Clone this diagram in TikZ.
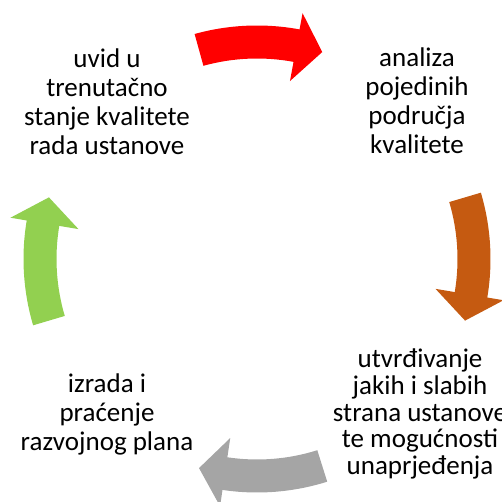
\documentclass[tikz,border=0pt]{standalone}
\usepackage{fontspec}
\setmainfont{Carlito}
\definecolor{cyred}{HTML}{FF0000}
\definecolor{cyorange}{HTML}{C55A11}
\definecolor{cygray}{HTML}{A5A5A5}
\definecolor{cygreen}{HTML}{92D050}
\tikzset{lbl/.style={align=center, inner sep=0pt, font=\fontsize{27}{29}\selectfont}}
\begin{document}
\begin{tikzpicture}[x=1pt,y=1pt]
\useasboundingbox (0,0) rectangle (501,502);
\begin{scope}[shift={(257,243)}]
\foreach \a/\c in {89/cyred, 0/cyorange, -89/cygray, 180/cygreen}
  \fill[\c](\a+16.5:233.5pt) arc[start angle=\a+16.5, end angle=\a-9.5, radius=233.5pt]
    --(\a-9.5:250pt)--(\a-16.5:217pt)--(\a-9.5:181pt)--(\a-9.5:200.5pt)
    arc[start angle=\a-9.5, end angle=\a+16.5, radius=200.5pt]--cycle;
\end{scope}

\node[lbl] (uvid) at (107,400) {uvid u\\trenutačno\\stanje kvalitete\\rada ustanove};
\node[lbl] (analiza) at (417,401) {analiza\\pojedinih\\područja\\kvalitete};
\node[lbl, font=\fontsize{27}{26.6}\selectfont] (utvrdivanje) at (420,88) {utvrđivanje\\jakih i slabih\\strana ustanove\\te mogućnosti\\unaprjeđenja};
\node[lbl] (izrada) at (107,87.5) {izrada i\\praćenje\\razvojnog plana};
\end{tikzpicture}
\end{document}
